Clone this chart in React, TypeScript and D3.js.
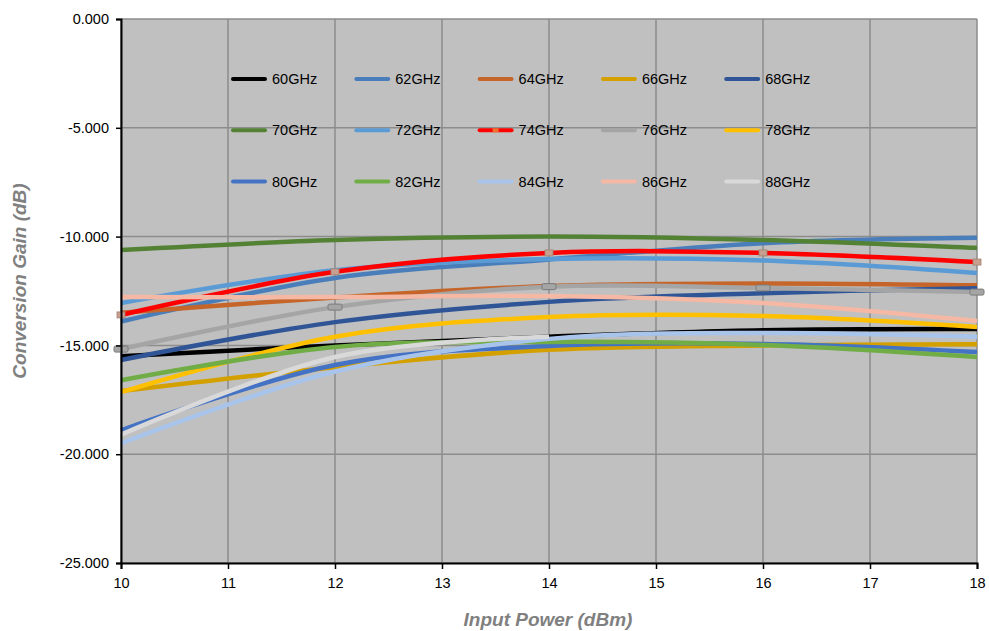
import * as d3 from "d3";
import { useEffect, useRef } from "react";

// input power (dBm) sample points
const inputPower = [10, 12, 14, 16, 18];

const freqLabels = [
  "60GHz", "62GHz", "64GHz", "66GHz", "68GHz",
  "70GHz", "72GHz", "74GHz", "76GHz", "78GHz",
  "80GHz", "82GHz", "84GHz", "86GHz", "88GHz",
];

const freqColors = [
  "#000000", "#4a7ebb", "#c5652a", "#d4a000", "#2f5597",
  "#548235", "#5b9bd5", "#ff0000", "#a5a5a5", "#ffc000",
  "#4472c4", "#70ad47", "#a9c4eb", "#f4b8a4", "#d9d9d9",
];

// conversion gain (dB) per frequency, at inputPower
const gain60 = [-15.5, -15.0, -14.6, -14.3, -14.25];
const gain62 = [-13.9, -11.9, -11.05, -10.3, -10.05];
const gain64 = [-13.5, -12.8, -12.27, -12.15, -12.24];
const gain66 = [-17.1, -16.0, -15.2, -15.0, -14.95];
const gain68 = [-15.67, -13.93, -13.0, -12.6, -12.37];
const gain70 = [-10.62, -10.16, -10.0, -10.16, -10.52];
const gain72 = [-13.05, -11.55, -11.03, -11.1, -11.67];
const gain74 = [-13.6, -11.62, -10.75, -10.75, -11.17];
const gain76 = [-15.17, -13.24, -12.3, -12.36, -12.55];
const gain78 = [-17.15, -14.6, -13.7, -13.65, -14.15];
const gain80 = [-18.9, -15.9, -15.03, -14.93, -15.3];
const gain82 = [-16.6, -15.07, -14.84, -14.98, -15.53];
const gain84 = [-19.5, -16.2, -14.7, -14.43, -14.6];
const gain86 = [-12.78, -12.78, -12.73, -13.05, -13.88];
const gain88 = [-19.1, -15.53, -14.6];

const allGains = [
  gain60, gain62, gain64, gain66, gain68,
  gain70, gain72, gain74, gain76, gain78,
  gain80, gain82, gain84, gain86, gain88,
];

const yTicks = [0, -5, -10, -15, -20, -25];
const xTicks = [10, 11, 12, 13, 14, 15, 16, 17, 18];

const W = 989;
const H = 631;
const FONT = "'Liberation Sans', Arial, sans-serif";

export default function App() {
  const ref = useRef<SVGSVGElement>(null);

  useEffect(() => {
    document.body.style.margin = "0";
    if (!ref.current) return;
    const svg = d3.select(ref.current);
    svg.selectAll("*").remove();

    const left = 121, right = 977, top = 19, bottom = 563;
    const x = d3.scaleLinear().domain([10, 18]).range([left, right]);
    const y = d3.scaleLinear().domain([-25, 0]).range([bottom, top]);

    svg.append("rect")
      .attr("x", left).attr("y", top)
      .attr("width", right - left).attr("height", bottom - top)
      .attr("fill", "#c0c0c0");

    const grid = svg.append("g").attr("stroke", "#8c8c8c").attr("stroke-width", 1.5);
    xTicks.forEach((t) => {
      grid.append("line").attr("x1", x(t)).attr("x2", x(t)).attr("y1", top).attr("y2", bottom);
    });
    yTicks.forEach((t) => {
      grid.append("line").attr("x1", left).attr("x2", right).attr("y1", y(t)).attr("y2", y(t));
    });

    // legend (drawn under the curves, transparent background)
    const leg = svg.append("g");
    freqLabels.forEach((lab, i) => {
      const col = i % 5;
      const row = Math.floor(i / 5);
      const lx = 233 + col * 123.3;
      const ly = 79 + row * 51.3;
      leg.append("line")
        .attr("x1", lx).attr("x2", lx + 32).attr("y1", ly).attr("y2", ly)
        .attr("stroke", freqColors[i]).attr("stroke-width", 4).attr("stroke-linecap", "round");
      leg.append("text")
        .attr("x", lx + 39).attr("y", ly + 5)
        .attr("font-family", FONT).attr("font-size", 14.5).attr("fill", "#000")
        .text(lab);
      if (i === 7) {
        leg.append("rect").attr("x", lx + 13).attr("y", ly - 2).attr("width", 6).attr("height", 4)
          .attr("fill", "#f07030");
      }
    });

    const line = d3.line<[number, number]>()
      .x((d) => x(d[0]))
      .y((d) => y(d[1]))
      .curve(d3.curveCardinal.tension(0));

    allGains.forEach((g, i) => {
      const pts = g.map((v, j) => [inputPower[j], v] as [number, number]);
      svg.append("path")
        .attr("d", line(pts))
        .attr("fill", "none")
        .attr("stroke", freqColors[i])
        .attr("stroke-width", 4.5);
      if (i === 7) {
        pts.forEach((p) => {
          svg.append("rect").attr("x", x(p[0]) - 4).attr("y", y(p[1]) - 3)
            .attr("width", 8).attr("height", 6)
            .attr("fill", "#c8a090").attr("stroke", "#a08070").attr("stroke-width", 0.8);
        });
      }
      if (i === 8) {
        pts.forEach((p) => {
          svg.append("rect").attr("x", x(p[0]) - 7).attr("y", y(p[1]) - 3)
            .attr("width", 14).attr("height", 6).attr("rx", 1.5)
            .attr("fill", "#a5a5a5").attr("stroke", "#7a7a7a").attr("stroke-width", 1);
        });
      }
    });

    // axes
    const yAxis = svg.append("g").attr("transform", `translate(${left},0)`)
      .call(d3.axisLeft(y).tickValues(yTicks).tickSize(5)
        .tickFormat((d) => (d as number).toFixed(3)));
    const xAxis = svg.append("g").attr("transform", `translate(0,${bottom})`)
      .call(d3.axisBottom(x).tickValues(xTicks).tickSize(6).tickFormat((d) => String(d)));
    [yAxis, xAxis].forEach((a) => {
      a.attr("font-family", FONT).attr("font-size", 14.5);
      a.select(".domain").attr("stroke", "#000").attr("stroke-width", 2);
      a.selectAll(".tick line").attr("stroke", "#000").attr("stroke-width", 1.5);
      a.selectAll(".tick text").attr("font-family", FONT).attr("font-size", 14.5).attr("fill", "#000");
    });
    yAxis.selectAll(".tick text").attr("x", -12);
    xAxis.selectAll(".tick text").attr("y", 15);

    svg.append("text")
      .attr("x", 548).attr("y", 626)
      .attr("text-anchor", "middle")
      .attr("font-family", FONT).attr("font-size", 19).attr("font-weight", "bold").attr("font-style", "italic")
      .attr("fill", "#808080")
      .text("Input Power (dBm)");
    svg.append("text")
      .attr("transform", `translate(26,${(top + bottom) / 2 - 10}) rotate(-90)`)
      .attr("text-anchor", "middle")
      .attr("font-family", FONT).attr("font-size", 19).attr("font-weight", "bold").attr("font-style", "italic")
      .attr("fill", "#808080")
      .text("Conversion Gain (dB)");
  }, []);

  return <svg ref={ref} width={W} height={H} style={{ display: "block", background: "#fff" }} />;
}
